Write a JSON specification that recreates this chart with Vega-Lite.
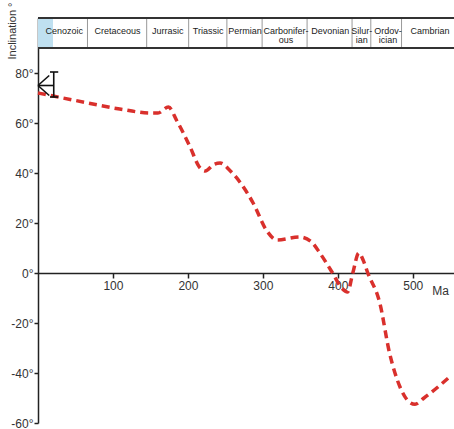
{
  "$schema": "https://vega.github.io/schema/vega-lite/v6.json",
  "width": 416,
  "height": 405,
  "autosize": {"type": "none"},
  "padding": {"left": 38, "top": 18, "right": 0, "bottom": 6},
  "background": "white",
  "config": {"view": {"stroke": null}, "font": "Liberation Sans"},
  "datasets": {
    "curve": [
      {"ma": 0, "inc": 72}, {"ma": 50, "inc": 69}, {"ma": 109, "inc": 65.6}, {"ma": 150, "inc": 64},
      {"ma": 160, "inc": 64}, {"ma": 174, "inc": 66.4}, {"ma": 185, "inc": 61}, {"ma": 203, "inc": 50.4},
      {"ma": 215, "inc": 42.5}, {"ma": 223, "inc": 40.8}, {"ma": 235, "inc": 43.5}, {"ma": 243, "inc": 44},
      {"ma": 256, "inc": 41}, {"ma": 287, "inc": 28}, {"ma": 305, "inc": 17}, {"ma": 319, "inc": 13.2},
      {"ma": 349, "inc": 14.4}, {"ma": 365, "inc": 12.4}, {"ma": 376, "inc": 8}, {"ma": 393, "inc": 0},
      {"ma": 405, "inc": -6}, {"ma": 413, "inc": -7.6}, {"ma": 420, "inc": 0}, {"ma": 428, "inc": 8},
      {"ma": 434, "inc": 5}, {"ma": 440, "inc": 0}, {"ma": 456, "inc": -12}, {"ma": 469, "inc": -32},
      {"ma": 483, "inc": -45.6}, {"ma": 495, "inc": -51.5}, {"ma": 503, "inc": -52.5}, {"ma": 515, "inc": -50},
      {"ma": 549, "inc": -41.6}
    ],
    "periods": [
      {"name": "Cenozoic", "start": 0, "end": 66, "mid": 35},
      {"name": "Cretaceous", "start": 66, "end": 145, "mid": 106},
      {"name": "Jurrasic", "start": 145, "end": 201, "mid": 173},
      {"name": "Triassic", "start": 201, "end": 252, "mid": 227},
      {"name": "Permian", "start": 252, "end": 299, "mid": 276},
      {"name": "Carbonifer-\nous", "start": 299, "end": 359, "mid": 331},
      {"name": "Devonian", "start": 359, "end": 419, "mid": 390},
      {"name": "Silur-\nian", "start": 419, "end": 444, "mid": 432},
      {"name": "Ordov-\nician", "start": 444, "end": 485, "mid": 467},
      {"name": "Cambrian", "start": 485, "end": 560, "mid": 523}
    ],
    "segs": [
      {"x": 21, "x2": 21, "y": 70.4, "y2": 80.4},
      {"x": 16, "x2": 27, "y": 80.4, "y2": 80.4},
      {"x": 16, "x2": 27, "y": 70.4, "y2": 70.4},
      {"x": 0, "x2": 21, "y": 75, "y2": 75},
      {"x": 0, "x2": 15, "y": 75, "y2": 79},
      {"x": 0, "x2": 15, "y": 75, "y2": 71}
    ]
  },
  "layer": [
    {
      "data": {"name": "curve"},
      "mark": {"type": "line", "interpolate": "monotone", "stroke": "#d9302c", "strokeWidth": 3.5, "strokeDash": [8, 5]},
      "encoding": {
        "x": {
          "field": "ma", "type": "quantitative", "scale": {"domain": [0, 555], "nice": false},
          "axis": {"values": [100, 200, 300, 400, 500], "offset": -150, "title": null, "grid": false,
                   "domainColor": "#222222", "domainWidth": 1.5, "tickColor": "#222222", "tickWidth": 1.5,
                   "tickSize": 5, "labelFontSize": 12, "labelColor": "#333333", "labelPadding": 2}
        },
        "y": {
          "field": "inc", "type": "quantitative", "scale": {"domain": [-60, 102], "nice": false},
          "axis": {"values": [-60, -40, -20, 0, 20, 40, 60, 80], "labelExpr": "datum.value + '°'", "grid": false,
                   "title": "Inclination °", "titleAngle": -90, "titleX": -26, "titleY": -16, "titleAlign": "right",
                   "titleBaseline": "middle", "titleFontSize": 11, "titleFontWeight": "normal", "titleColor": "#333333",
                   "domainColor": "#222222", "domainWidth": 1.5, "tickColor": "#222222", "tickWidth": 1.5,
                   "tickSize": 4, "labelFontSize": 12, "labelColor": "#333333", "labelPadding": 1}
        }
      }
    },
    {
      "data": {"values": [{"s": 0, "e": 20, "y": 90, "y2": 102}]},
      "mark": {"type": "rect", "fill": "#bfe0f0"},
      "encoding": {
        "x": {"field": "s", "type": "quantitative"},
        "x2": {"field": "e"},
        "y": {"field": "y", "type": "quantitative"},
        "y2": {"field": "y2"}
      }
    },
    {
      "data": {"name": "periods"},
      "mark": {"type": "rule", "stroke": "#999999", "strokeWidth": 1},
      "encoding": {
        "x": {"field": "end", "type": "quantitative"},
        "y": {"datum": 90, "type": "quantitative"},
        "y2": {"datum": 102}
      }
    },
    {
      "data": {"values": [{"y": 90}, {"y": 102}]},
      "mark": {"type": "rule", "stroke": "#333333", "strokeWidth": 2},
      "encoding": {
        "x": {"datum": 0, "type": "quantitative"},
        "x2": {"datum": 555},
        "y": {"field": "y", "type": "quantitative"}
      }
    },
    {
      "data": {"name": "periods"},
      "mark": {"type": "text", "fontSize": 9, "color": "#222222", "lineBreak": "\n", "lineHeight": 9, "baseline": "middle", "align": "center", "dy": -2},
      "encoding": {
        "x": {"field": "mid", "type": "quantitative"},
        "y": {"datum": 96, "type": "quantitative"},
        "text": {"field": "name"}
      }
    },
    {
      "data": {"name": "segs"},
      "mark": {"type": "rule", "stroke": "#111111", "strokeWidth": 1.6},
      "encoding": {
        "x": {"field": "x", "type": "quantitative"},
        "x2": {"field": "x2"},
        "y": {"field": "y", "type": "quantitative"},
        "y2": {"field": "y2"}
      }
    },
    {
      "data": {"values": [{"ma": 537, "inc": -7, "t": "Ma"}]},
      "mark": {"type": "text", "fontSize": 12, "color": "#333333", "align": "center", "baseline": "middle"},
      "encoding": {
        "x": {"field": "ma", "type": "quantitative"},
        "y": {"field": "inc", "type": "quantitative"},
        "text": {"field": "t"}
      }
    }
  ]
}
